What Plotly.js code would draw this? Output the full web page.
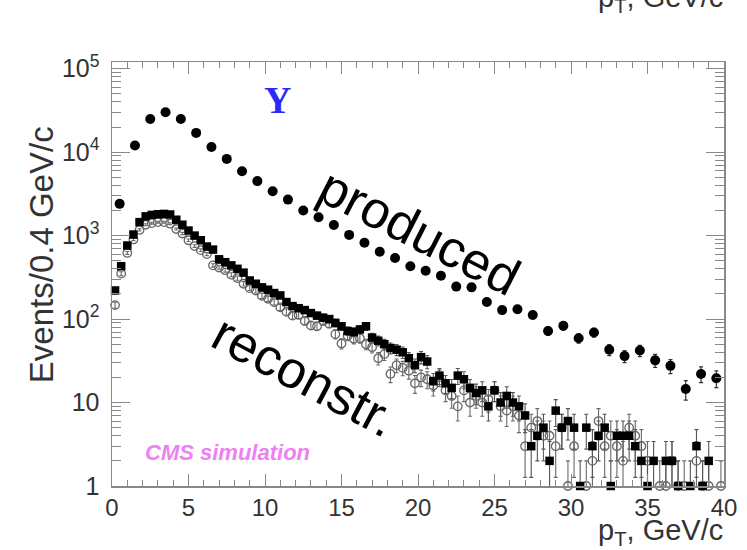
<!DOCTYPE html>
<html>
<head>
<meta charset="utf-8">
<script src="https://cdn.plot.ly/plotly-3.0.1.min.js"></script>
<style>html,body{margin:0;padding:0;background:#fff;}#chart{width:747px;height:550px;}</style>
</head>
<body>
<div id="chart"></div>
<script>
// ---- produced (1 GeV points) ----
const prodPt = [0.5,1.5,2.5,3.5,4.5,5.5,6.5,7.5,8.5,9.5,10.5,11.5,12.5,13.5,14.5,15.5,16.5,17.5,18.5,19.5,
  20.5,21.5,22.5,23.5,24.5,25.5,26.5,27.5,28.5,29.5,30.5,31.5,32.5,33.5,34.5,35.5,36.5,37.5,38.5,39.5];
const prodVal = [2400,12000,25000,30000,25000,17000,11500,8300,5900,4500,3400,2700,2000,1660,1340,1020,820,640,540,430,
  380,330,245,240,160,128,131,112,72,83,59,69,43,36,42,32,27.5,14.5,22,19.5];

// ---- reconstructed (0.4 GeV bins) ----
const recoPt = [0.2,0.6,1.0,1.4,1.8,2.2,2.6,3.0,3.4,3.8,4.2,4.6,5.0,5.4,5.8,6.2,6.6,7.0,7.4,7.8,
  8.2,8.6,9.0,9.4,9.8,10.2,10.6,11.0,11.4,11.8,12.2,12.6,13.0,13.4,13.8,14.2,14.6,15.0,15.4,15.8,
  16.2,16.6,17.0,17.4,17.8,18.2,18.6,19.0,19.4,19.8,20.2,20.6,21.0,21.4,21.8,22.2,22.6,23.0,23.4,23.8,
  24.2,24.6,25.0,25.4,25.8,26.2,26.6,27.0,27.4,27.8,28.2,28.6,29.0,29.4,29.8,30.2,30.6,31.0,31.4,31.8,
  32.2,32.6,33.0,33.4,33.8,34.2,34.6,35.0,35.4,35.8,36.2,36.6,37.0,37.4,37.8,38.2,38.6,39.0,39.4,39.8];
// filled squares
const recoFilled = [220,430,760,1030,1450,1700,1770,1800,1820,1790,1550,1350,1150,1000,880,740,680,520,480,440,
  400,360,290,265,240,225,205,192,160,143,135,128,118,110,104,100,90,82,72,70,
  75,82,60,55,50,45,43,40,34,28,35,31,18,21,17,15,21,19,15,13,
  14,9,14,10,12,10,9,7,3,4,5,2,8,5,6,5,1,5,3,4,
  5,1,4,4,4,3,2,1,2,null,2,2,1,null,1,3,1,2,null,null];
// open circles
const recoOpen = [147,350,620,900,1170,1350,1410,1450,1450,1390,1200,1060,880,750,670,600,440,415,385,340,
  310,265,235,220,190,175,160,138,122,110,112,95,84,82,95,88,66,51,63,58,
  59,50,46,34,38,22,28,26,24,17,20,19,16,20,14,12,9,14,10,12,
  10,11,14,9,8,9,7,3,5,6,4,4,3,5,1,3,null,1,2,6,
  3,4,3,2,5,4,3,2,null,1,1,2,1,1,null,2,1,1,null,1];

const xTickVals = [0,5,10,15,20,25,30,35,40];
const yTickVals = [1,10,100,1000,10000,100000];
const yTickText = ['1','10','10<sup>2</sup>','10<sup>3</sup>','10<sup>4</sup>','10<sup>5</sup>'];

const font = 'Liberation Sans, Arial, Helvetica, sans-serif';
const errGrey = '#6a6a6a';

const traces = [
  // error bars (clipped to the frame)
  {x: recoPt, y: recoOpen, type:'scatter', mode:'markers', cliponaxis:true,
   marker:{size:8, opacity:0}, hoverinfo:'skip',
   error_y:{type:'sqrt', visible:true, color:errGrey, thickness:1.1, width:2}},
  {x: recoPt, y: recoFilled, type:'scatter', mode:'markers', cliponaxis:true,
   marker:{size:8, opacity:0}, hoverinfo:'skip',
   error_y:{type:'sqrt', visible:true, color:'#555', thickness:1.1, width:2}},
  {x: prodPt, y: prodVal, type:'scatter', mode:'markers', cliponaxis:true,
   marker:{size:10, opacity:0}, hoverinfo:'skip',
   error_y:{type:'sqrt', visible:true, color:'#333', thickness:1.2, width:2}},
  // markers
  {x: recoPt, y: recoOpen, type:'scatter', mode:'markers', cliponaxis:false, name:'reconstr. (open)',
   marker:{symbol:'circle-open', size:8.5, color:'#666', line:{width:1.3, color:'#666'}}},
  {x: recoPt, y: recoFilled, type:'scatter', mode:'markers', cliponaxis:false, name:'reconstr.',
   marker:{symbol:'square', size:8.5, color:'#000'}},
  {x: prodPt, y: prodVal, type:'scatter', mode:'markers', cliponaxis:false, name:'produced',
   marker:{symbol:'circle', size:10, color:'#000'}}
];

function ann(x, y, text, size, color, extra) {
  return Object.assign({xref:'paper', yref:'paper', x:x, y:y, xanchor:'center', yanchor:'middle',
    text:text, showarrow:false, font:{size:size, color:color, family:font}}, extra || {});
}

const layout = {
  width:747, height:550,
  margin:{l:112, r:23, t:62, b:64},
  paper_bgcolor:'#fff', plot_bgcolor:'#fff',
  showlegend:false,
  font:{family:font, color:'#333'},
  xaxis:{
    range:[0,40], tickmode:'array', tickvals:xTickVals,
    ticks:'inside', ticklen:12, tickwidth:1, tickcolor:'#888',
    showline:true, linecolor:'#888', linewidth:1.5, mirror:'ticks',
    showgrid:false, zeroline:false,
    tickfont:{size:24, color:'#333', family:font},
    minor:{dtick:1, ticks:'inside', ticklen:6, tickcolor:'#888', showgrid:false}
  },
  yaxis:{
    type:'log', range:[0,5.08], tickmode:'array', tickvals:yTickVals, ticktext:yTickText,
    ticks:'inside', ticklen:18, tickwidth:1, tickcolor:'#888',
    showline:true, linecolor:'#888', linewidth:1.5, mirror:'ticks',
    showgrid:false, zeroline:false, ticklabelstandoff:6,
    tickfont:{size:25, color:'#333', family:font},
    minor:{dtick:'D1', ticks:'inside', ticklen:9, tickcolor:'#888', showgrid:false}
  },
  annotations:[
    ann(-0.114, 0.545, 'Events/0.4 GeV/c', 33, '#333', {textangle:-90}),
    ann(1.002, -0.108, 'p<sub>T</sub>, GeV/c', 29, '#333', {xanchor:'right'}),
    ann(1.002, 1.148, 'p<sub>T</sub>, GeV/c', 29, '#333', {xanchor:'right'}),
    ann(0.271, 0.91, '<b>Υ</b>', 38, '#2a2aff', {font:{size:38, color:'#2a2aff', family:'Liberation Serif, Times New Roman, serif'}}),
    ann(0.503, 0.599, 'produced', 52, '#000', {textangle:27}),
    ann(0.315, 0.259, 'reconstr.', 52, '#000', {textangle:28}),
    ann(0.188, 0.080, '<b><i>CMS simulation</i></b>', 22, '#ee80f2')
  ]
};

Plotly.newPlot('chart', traces, layout, {staticPlot:true, displayModeBar:false});
</script>
</body>
</html>
